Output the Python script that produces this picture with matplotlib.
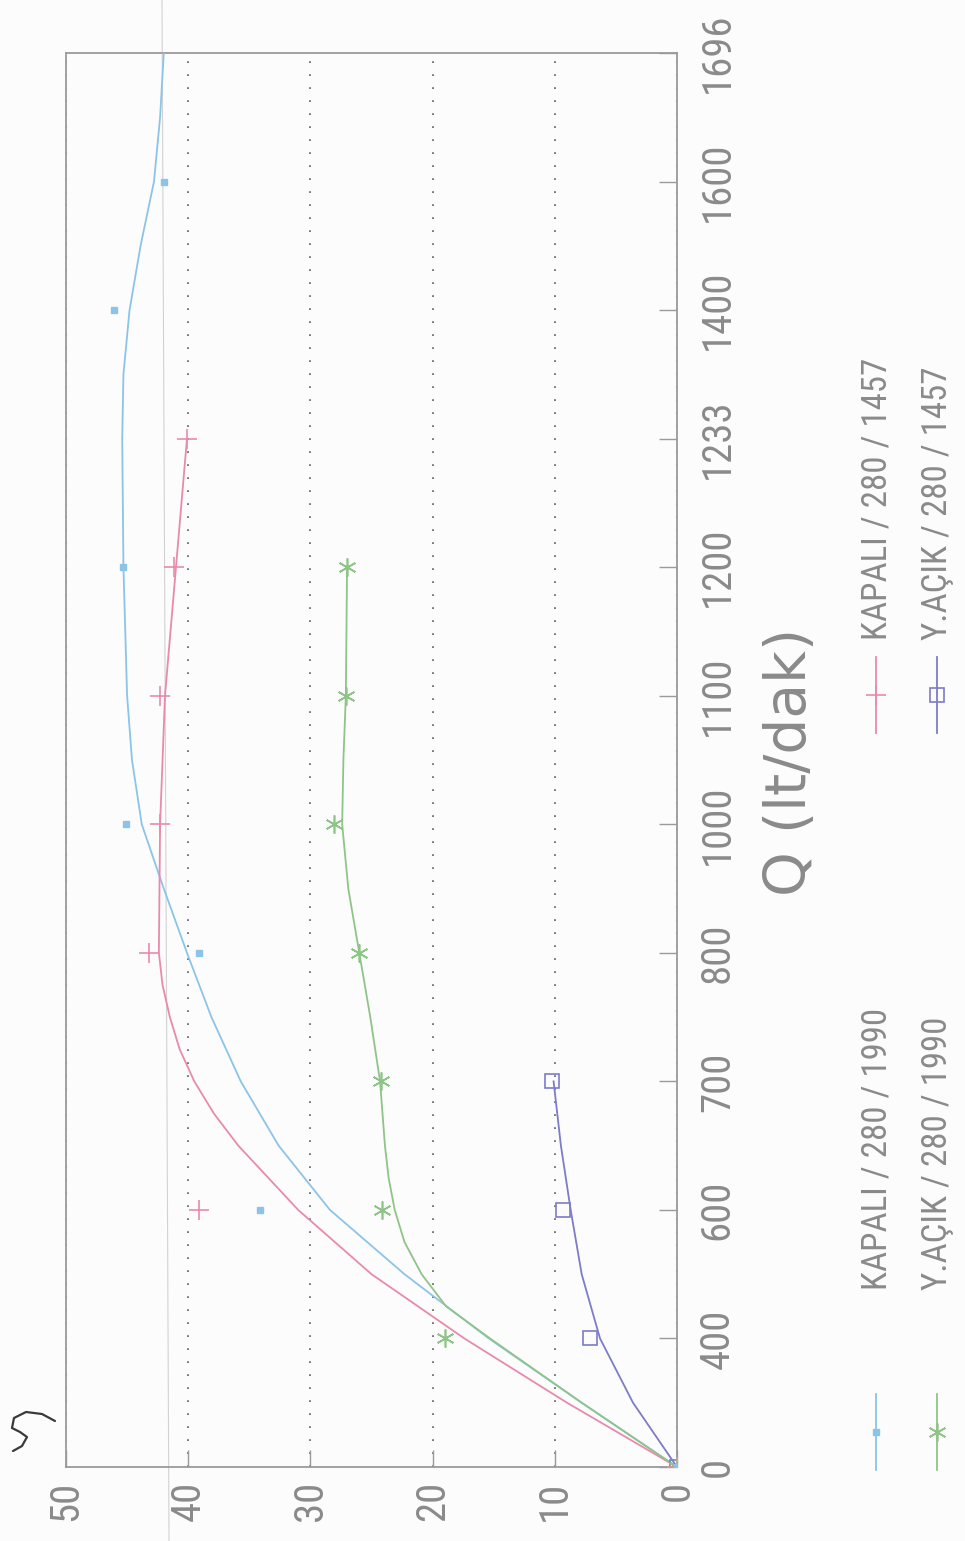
import matplotlib
matplotlib.use("Agg")
import matplotlib.pyplot as plt
from matplotlib import font_manager

# ---------------- data ----------------
q_labels = ['0', '400', '600', '700', '800', '1000', '1100', '1200', '1233', '1400', '1600', '1696']
value_ticks = [0, 10, 20, 30, 40, 50]

series_names = ['KAPALI / 280 / 1990', 'KAPALI / 280 / 1457',
                'Y.AÇIK / 280 / 1990', 'Y.AÇIK / 280 / 1457']

# measured points (Q category, value)
kapali_1990_q = ['0', '600', '800', '1000', '1200', '1400', '1600']
kapali_1990_v = [0, 34.1, 39.1, 45.1, 45.3, 46.1, 42.0]
kapali_1457_q = ['0', '600', '800', '1000', '1100', '1200', '1233']
kapali_1457_v = [0, 39.1, 43.2, 42.3, 42.3, 41.2, 40.1]
yacik_1990_q = ['0', '400', '600', '700', '800', '1000', '1100', '1200']
yacik_1990_v = [0, 19.0, 24.1, 24.2, 26.0, 28.1, 27.1, 27.0]
yacik_1457_q = ['0', '400', '600', '700']
yacik_1457_v = [0, 7.1, 9.3, 10.2]

# fitted curves, read at (fractional) category positions along the Q axis
kapali_1990_fit_pos = [0, 0.5, 1, 1.5, 2, 2.5, 3, 3.5, 4, 4.5, 5, 5.5, 6, 7, 8, 8.5, 9, 9.5, 10, 10.5, 11]
kapali_1990_fit_v = [0, 7.8, 15.4, 22.3, 28.4, 32.6, 35.7, 38.1, 40.1, 42.0, 43.8, 44.6, 45.0, 45.3, 45.4,
                     45.3, 44.8, 43.9, 42.8, 42.3, 42.0]
kapali_1457_fit_pos = [0, 0.5, 1, 1.5, 2, 2.5, 2.75, 3, 3.25, 3.5, 3.75, 4, 5, 6, 7, 8]
kapali_1457_fit_v = [0, 9.0, 17.4, 25.0, 31.0, 35.9, 37.9, 39.5, 40.7, 41.5, 42.1, 42.4, 42.3, 41.9, 41.0, 40.1]
yacik_1990_fit_pos = [0, 0.5, 1, 1.25, 1.5, 1.75, 2, 2.25, 2.5, 3, 3.5, 4, 4.5, 5, 5.5, 6, 7]
yacik_1990_fit_v = [0, 7.8, 15.3, 18.9, 20.9, 22.3, 23.1, 23.6, 23.9, 24.3, 25.1, 26.0, 26.9, 27.4, 27.3,
                    27.1, 27.0]
yacik_1457_fit_pos = [0, 0.5, 1, 1.5, 2, 2.5, 3]
yacik_1457_fit_v = [0, 3.6, 6.3, 7.8, 8.7, 9.5, 10.1]

# ---------------- style ----------------
c_blue = '#8cc4e8'
c_pink = '#e88aac'
c_green = '#8fc488'
c_purple = '#7c7cc8'
c_text = '#8a8a8a'
c_frame = '#9a9a9a'
bg = '#fcfcfc'

avail = {f.name for f in font_manager.fontManager.ttflist}
narrow = next((f for f in ['Liberation Sans Narrow', 'DejaVu Sans Condensed', 'Roboto Condensed']
               if f in avail), 'DejaVu Sans')

W, H = 965, 1541
fig = plt.figure(figsize=(W / 100, H / 100), dpi=100, facecolor=bg)
renderer = fig.canvas.get_renderer()


def fit_size(s, target_px, family):
    t = fig.text(0, 0, s, fontsize=20, family=family)
    w = t.get_window_extent(renderer=renderer).width
    t.remove()
    return 20 * target_px / w


fs_tick = fit_size('1696', 80, narrow)
fs_leg = fit_size('KAPALI / 280 / 1990', 282, narrow)
fs_qlab = fit_size('Q (lt/dak)', 268, 'DejaVu Sans')

# overlay axes in pixel coordinates for legend and page marks
lax = fig.add_axes([0, 0, 1, 1])
lax.set_xlim(0, W)
lax.set_ylim(H, 0)
lax.axis('off')
lax.set_facecolor('none')

# main plot (page rotated 90 degrees: Q runs upward, value runs leftward)
left, right, top, bottom = 66, 677, 53, 1467
ax = fig.add_axes([left / W, (H - bottom) / H, (right - left) / W, (bottom - top) / H])
ax.set_facecolor('none')

idx = {q: i for i, q in enumerate(q_labels)}

ax.plot(kapali_1990_fit_v, kapali_1990_fit_pos, color=c_blue, lw=1.3, zorder=3)
ax.plot(kapali_1457_fit_v, kapali_1457_fit_pos, color=c_pink, lw=1.3, zorder=3)
ax.plot(yacik_1990_fit_v, yacik_1990_fit_pos, color=c_green, lw=1.3, zorder=3)
ax.plot(yacik_1457_fit_v, yacik_1457_fit_pos, color=c_purple, lw=1.3, zorder=3)

ax.plot(yacik_1457_v, [idx[q] for q in yacik_1457_q], ls='none', marker='s', ms=9.5,
        mfc='none', mec=c_purple, mew=1.2, zorder=4)
ax.plot(kapali_1457_v, [idx[q] for q in kapali_1457_q], ls='none', marker='+', ms=15,
        mec=c_pink, mew=1.2, zorder=4)
ax.plot(yacik_1990_v, [idx[q] for q in yacik_1990_q], ls='none', marker=(6, 2, 0), ms=13,
        mec=c_green, mew=1.2, zorder=4)
ax.plot(kapali_1990_v, [idx[q] for q in kapali_1990_q], ls='none', marker='s', ms=4.5,
        mfc=c_blue, mec=c_blue, zorder=4)

ax.set_xlim(50, 0)
ax.set_ylim(0, len(q_labels) - 1)
ax.set_xticks(value_ticks)
ax.set_xticklabels([str(v) for v in value_ticks], rotation=90, ha='center', va='top',
                   fontsize=fs_tick, family=narrow, color=c_text)
ax.set_yticks(range(len(q_labels)))
ax.set_yticklabels(q_labels, rotation=90, ha='left', va='center',
                   fontsize=fs_tick, family=narrow, color=c_text)
ax.yaxis.tick_right()
ax.tick_params(axis='y', direction='in', length=13, width=1, color=c_frame, pad=15)
ax.tick_params(axis='x', direction='in', length=12, width=1, color=c_frame, pad=10)
ax.xaxis.grid(True, color='#6e6e6e', lw=1.3, ls=(0, (1, 6.2)))
ax.yaxis.grid(False)
for sp in ax.spines.values():
    sp.set_color(c_frame)
    sp.set_linewidth(1.3)

# axis title (original x-axis label, rotated with the page)
lax.text(790, 762, 'Q (lt/dak)', rotation=90, ha='center', va='center',
         fontsize=fs_qlab, family='DejaVu Sans', color=c_text)

# legend (two columns, reading bottom to top)
leg = [
    (876, 1432, 1290, series_names[0], c_blue, dict(marker='s', ms=4.5, mfc=c_blue, mec=c_blue)),
    (876, 695, 640, series_names[1], c_pink, dict(marker='+', ms=15, mec=c_pink, mew=1.2)),
    (937, 1432, 1290, series_names[2], c_green, dict(marker=(6, 2, 0), ms=13, mec=c_green, mew=1.2)),
    (937, 695, 640, series_names[3], c_purple, dict(marker='s', ms=9.5, mfc='none', mec=c_purple, mew=1.2)),
]
for x, ym, ytxt, name, col, mk in leg:
    lax.plot([x, x], [ym - 38, ym + 38], color=col, lw=1.3)
    lax.plot([x], [ym], ls='none', **mk)
    lax.text(x + 1, ytxt, name, rotation=90, ha='center', va='bottom',
             fontsize=fs_leg, family=narrow, color=c_text)

# scan artefacts: faint fold line and handwritten mark
lax.plot([162, 169], [0, H], color='#d2d2d2', lw=0.8)
lax.plot([55, 42, 26, 14, 12, 20, 27, 22, 13], [1421, 1414, 1412, 1418, 1428, 1432, 1437, 1446, 1451],
         color='#3a3a3a', lw=1.6, solid_capstyle='round')

fig.savefig('out.png', dpi=100, facecolor=bg)
